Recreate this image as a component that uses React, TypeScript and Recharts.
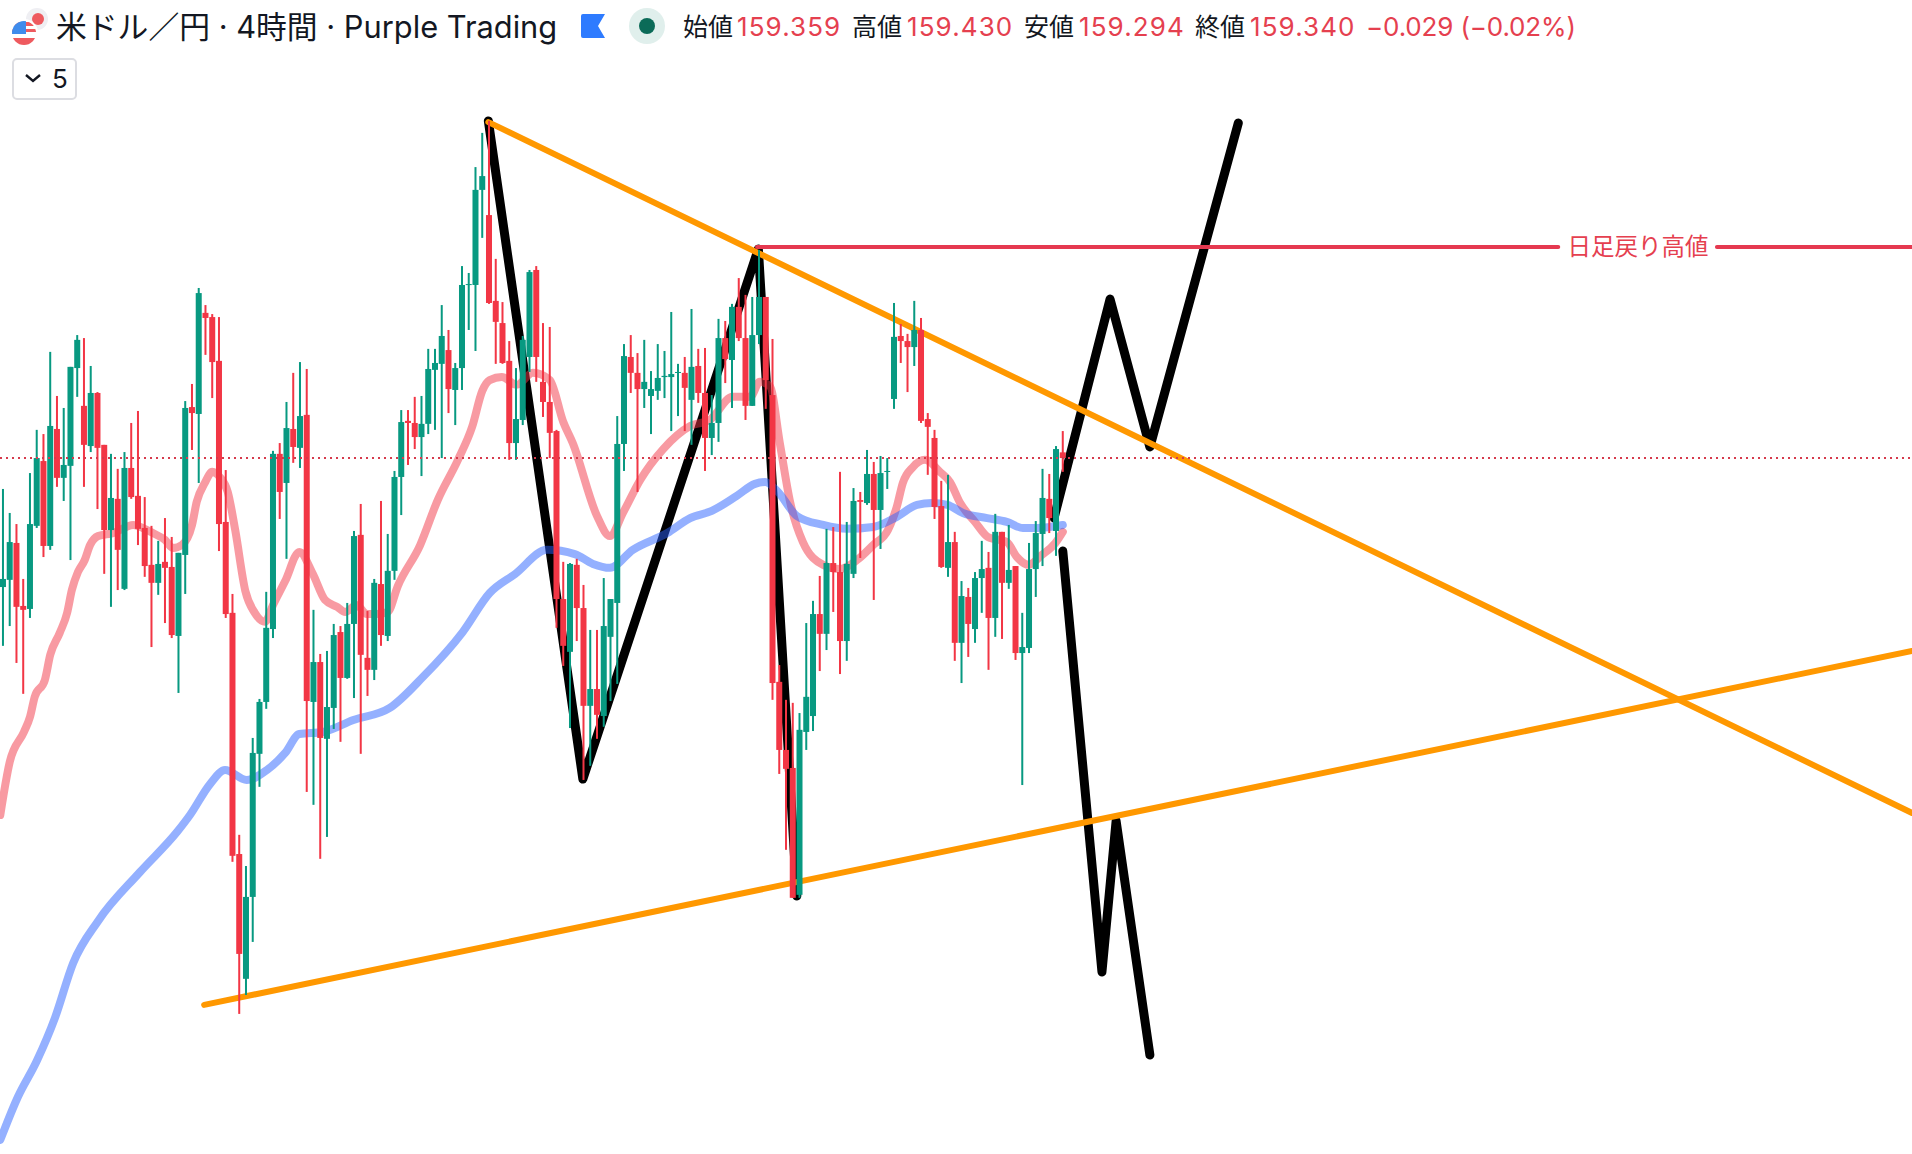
import React from "react";
import {
  Bar,
  ComposedChart,
  Line,
  ReferenceDot,
  ReferenceLine,
  XAxis,
  YAxis,
} from "recharts";

const opens = [
  158.910, 158.934, 159.057, 158.847, 158.837, 159.114, 159.330, 159.047, 159.437, 159.274,
  159.314, 159.640, 159.514, 159.380, 159.557, 159.384, 159.100, 159.204, 158.904, 159.307,
  159.214, 159.107, 158.984, 158.924, 158.994, 158.977, 158.747, 159.017, 159.510, 159.487,
  159.824, 159.810, 159.664, 159.127, 158.824, 158.020, 157.604, 157.877, 158.354, 158.527,
  158.770, 159.354, 159.257, 159.437, 159.374, 159.484, 158.527, 158.660, 158.404, 158.507,
  158.760, 158.607, 158.787, 159.084, 158.674, 158.634, 158.920, 158.747, 158.964, 159.277,
  159.464, 159.457, 159.410, 159.454, 159.634, 159.654, 159.700, 159.567, 159.640, 159.917,
  159.917, 160.234, 160.150, 159.864, 159.790, 159.664, 159.390, 159.467, 159.677, 159.967,
  159.594, 159.527, 159.430, 158.870, 158.694, 158.984, 158.840, 158.514, 158.570, 158.480,
  158.744, 158.857, 159.387, 159.677, 159.624, 159.570, 159.547, 159.564, 159.610, 159.610,
  159.624, 159.624, 159.534, 159.647, 159.557, 159.407, 159.457, 159.740, 159.667, 159.844,
  159.740, 159.514, 159.750, 159.877, 159.550, 158.594, 158.367, 158.307, 157.884, 158.427,
  158.480, 158.820, 158.754, 158.990, 158.960, 158.730, 158.954, 159.200, 159.190, 159.287,
  159.167, 159.294, 159.537, 159.747, 159.730, 159.710, 159.767, 159.470, 159.407, 159.180,
  158.974, 159.060, 158.724, 158.877, 158.770, 158.940, 158.974, 158.807, 159.094, 158.924,
  158.980, 158.690, 158.707, 158.970, 159.087, 159.204, 159.097, 159.359,
];
const highs = [
  159.237, 159.157, 159.120, 158.937, 159.290, 159.434, 159.420, 159.694, 159.547, 159.507,
  159.644, 159.750, 159.740, 159.647, 159.560, 159.384, 159.354, 159.304, 159.360, 159.457,
  159.497, 159.210, 159.114, 159.064, 159.140, 159.077, 159.024, 159.530, 159.587, 159.907,
  159.850, 159.820, 159.810, 159.300, 158.887, 158.084, 157.980, 158.407, 158.537, 158.894,
  159.364, 159.390, 159.527, 159.624, 159.660, 159.637, 158.834, 158.687, 158.697, 158.787,
  158.780, 158.857, 159.097, 159.187, 158.830, 158.937, 159.197, 159.087, 159.297, 159.500,
  159.500, 159.544, 159.547, 159.704, 159.704, 159.850, 159.767, 159.657, 159.980, 159.957,
  160.310, 160.424, 160.464, 160.004, 159.860, 159.730, 159.640, 159.747, 159.967, 159.980,
  159.790, 159.777, 159.434, 158.994, 158.990, 159.004, 158.917, 158.767, 158.767, 158.940,
  158.870, 159.480, 159.720, 159.750, 159.690, 159.734, 159.630, 159.720, 159.697, 159.827,
  159.654, 159.677, 159.837, 159.704, 159.707, 159.550, 159.804, 159.797, 159.854, 159.940,
  159.884, 159.877, 160.034, 159.877, 159.737, 158.650, 158.534, 158.524, 158.490, 158.790,
  158.864, 158.947, 159.104, 159.110, 159.294, 159.127, 159.240, 159.227, 159.367, 159.327,
  159.347, 159.340, 159.857, 159.787, 159.754, 159.864, 159.807, 159.490, 159.434, 159.264,
  159.284, 159.094, 158.930, 158.907, 158.960, 159.064, 159.027, 159.154, 159.094, 159.117,
  158.980, 158.824, 159.057, 159.130, 159.304, 159.287, 159.380, 159.430,
];
const lows = [
  158.714, 158.780, 158.657, 158.554, 158.807, 159.107, 159.010, 159.034, 159.244, 159.197,
  159.000, 159.544, 159.244, 159.360, 159.170, 158.954, 158.844, 158.900, 158.900, 159.204,
  159.050, 158.944, 158.710, 158.884, 158.790, 158.740, 158.557, 158.887, 159.367, 159.257,
  159.684, 159.540, 159.030, 158.807, 157.994, 157.487, 157.550, 157.727, 158.244, 158.504,
  158.740, 159.137, 159.004, 159.324, 159.307, 158.227, 158.184, 158.004, 158.077, 158.437,
  158.394, 158.604, 158.540, 158.354, 158.547, 158.600, 158.714, 158.730, 158.934, 159.150,
  159.317, 159.370, 159.280, 159.420, 159.434, 159.340, 159.490, 159.450, 159.567, 159.767,
  159.697, 160.074, 159.854, 159.654, 159.654, 159.334, 159.334, 159.450, 159.627, 159.594,
  159.477, 159.340, 158.774, 158.647, 158.440, 158.730, 158.267, 158.314, 158.404, 158.444,
  158.530, 158.587, 159.297, 159.557, 159.227, 159.507, 159.420, 159.534, 159.540, 159.430,
  159.480, 159.430, 159.384, 159.524, 159.297, 159.350, 159.394, 159.590, 159.507, 159.730,
  159.467, 159.514, 159.720, 159.504, 158.534, 158.287, 158.034, 157.874, 157.874, 158.367,
  158.430, 158.630, 158.700, 158.827, 158.620, 158.664, 158.940, 159.007, 159.184, 158.867,
  159.037, 159.237, 159.504, 159.657, 159.560, 159.647, 159.457, 159.284, 159.137, 158.974,
  158.944, 158.664, 158.590, 158.677, 158.724, 158.824, 158.634, 158.744, 158.737, 158.904,
  158.667, 158.250, 158.690, 158.877, 158.980, 159.090, 159.014, 159.294,
];
const closes = [
  158.937, 159.060, 158.844, 158.834, 159.120, 159.340, 159.047, 159.447, 159.274, 159.317,
  159.644, 159.734, 159.384, 159.557, 159.374, 159.100, 159.207, 159.034, 159.307, 159.210,
  159.104, 158.980, 158.924, 158.987, 158.974, 158.750, 159.024, 159.507, 159.490, 159.890,
  159.807, 159.660, 159.120, 158.820, 158.014, 157.687, 157.877, 158.357, 158.527, 158.774,
  159.354, 159.227, 159.440, 159.377, 159.480, 158.530, 158.660, 158.407, 158.510, 158.750,
  158.607, 158.787, 159.080, 158.684, 158.634, 158.924, 158.750, 158.964, 159.277, 159.460,
  159.457, 159.410, 159.454, 159.637, 159.657, 159.747, 159.570, 159.640, 159.917, 159.920,
  160.234, 160.280, 159.857, 159.794, 159.657, 159.390, 159.470, 159.734, 159.960, 159.677,
  159.527, 159.424, 158.870, 158.714, 158.987, 158.840, 158.514, 158.570, 158.484, 158.780,
  158.870, 159.387, 159.680, 159.624, 159.570, 159.594, 159.570, 159.607, 159.614, 159.620,
  159.627, 159.574, 159.644, 159.557, 159.407, 159.457, 159.740, 159.670, 159.844, 159.740,
  159.514, 159.750, 159.877, 159.600, 158.590, 158.367, 158.304, 157.874, 158.434, 158.544,
  158.820, 158.754, 158.990, 158.960, 158.730, 158.987, 159.197, 159.194, 159.287, 159.167,
  159.290, 159.297, 159.744, 159.730, 159.710, 159.767, 159.464, 159.444, 159.177, 158.977,
  159.060, 158.724, 158.880, 158.787, 158.940, 158.970, 158.807, 159.094, 158.924, 158.967,
  158.690, 158.710, 158.970, 159.090, 159.207, 159.140, 159.370, 159.340,
];

const pinkAt = [
  -0.4, 1.0, 3.1, 4.0, 4.7, 6.2, 7.0, 8.4, 9.5, 10.2, 11.1, 12.1, 12.9, 14.1, 16.3, 19.3, 20.7, 22.2, 24.0, 25.2,
  26.5, 28.0, 28.7, 29.9, 31.0, 32.1, 33.3, 34.4, 35.9, 37.3, 38.8, 40.0, 41.8, 43.9, 45.9, 47.7, 49.5, 50.7, 52.4, 53.9,
  55.4, 57.0, 58.5, 61.8, 64.4, 67.4, 69.5, 71.0, 72.1, 73.9, 76.1, 78.5, 81.0, 83.0, 84.4, 88.0, 89.9, 91.9, 94.4, 97.8,
  101.8, 104.7, 108.1, 110.7, 112.1, 113.6, 115.1, 116.6, 118.5, 121.5, 124.0, 126.5, 128.9, 131.1, 132.4, 133.3, 134.8, 136.6, 138.8, 140.3,
  141.8, 144.0, 145.9, 148.7, 150.2, 151.9, 153.9, 155.9, 157.0,
];
const pinkVals = [
  158.150, 158.327, 158.427, 158.477, 158.544, 158.600, 158.684, 158.757, 158.824, 158.900, 158.960, 159.000, 159.050, 159.080, 159.090, 159.117, 159.107, 159.090, 159.067, 159.040,
  159.050, 159.117, 159.194, 159.257, 159.294, 159.277, 159.227, 159.100, 158.897, 158.824, 158.794, 158.850, 158.930, 159.027, 158.954, 158.867, 158.844, 158.827, 158.850, 158.820,
  158.820, 158.827, 158.914, 159.050, 159.200, 159.334, 159.444, 159.564, 159.600, 159.610, 159.584, 159.624, 159.600, 159.460, 159.390, 159.147, 159.080, 159.160, 159.267, 159.370,
  159.447, 159.467, 159.544, 159.544, 159.594, 159.580, 159.387, 159.194, 159.060, 158.984, 158.970, 159.000, 159.050, 159.100, 159.177, 159.257, 159.310, 159.334, 159.294, 159.260,
  159.190, 159.127, 159.077, 159.060, 159.010, 158.984, 159.017, 159.057, 159.094,
];
const blueAt = [
  -0.4, 2.2, 5.0, 7.7, 10.4, 14.1, 20.3, 25.8, 27.7, 30.7, 32.9, 36.1, 39.1, 41.8, 43.9, 47.4, 51.9, 57.3, 62.2, 68.1,
  72.1, 75.9, 80.6, 84.7, 87.4, 89.9, 93.3, 98.4, 101.8, 105.0, 108.7, 111.4, 112.9, 114.7, 117.6, 121.5, 125.0, 128.9, 132.4, 135.4,
  137.6, 139.9, 142.2, 145.8, 148.7, 151.1, 153.2, 157.0,
];
const blueVals = [
  157.067, 157.210, 157.330, 157.474, 157.657, 157.797, 157.960, 158.094, 158.150, 158.254, 158.300, 158.267, 158.300, 158.357, 158.420, 158.427, 158.467, 158.507, 158.610, 158.760,
  158.890, 158.954, 159.034, 159.020, 158.987, 158.974, 159.034, 159.090, 159.140, 159.164, 159.214, 159.254, 159.260, 159.230, 159.147, 159.117, 159.104, 159.110, 159.144, 159.184,
  159.190, 159.184, 159.157, 159.140, 159.127, 159.107, 159.107, 159.117,
];

// hand drawn lines, [candle index, price]
const orangeDown = [[71.9, 160.46], [282.8, 158.157]];
const orangeUp = [[29.8, 157.517], [282.8, 158.697]];
const blackPast = [[71.9, 160.464], [85.9, 158.27], [111.9, 160.037], [117.6, 157.88]];
const blackUp = [[155.7, 159.14], [164.0, 159.87], [169.9, 159.377], [183.0, 160.457]];
const blackDown = [[157.0, 159.03], [162.8, 157.627], [164.9, 158.13], [169.9, 157.35]];
const redLeft = [[111.7, 160.044], [230.4, 160.044]];
const redRight = [[253.9, 160.044], [282.8, 160.044]];

const lastPrice = 159.34;
const redLabel = "日足戻り高値";
const titleText = "米ドル／円 · 4時間 · Purple Trading";
const ohlcLabels = ["始値", "高値", "安値", "終値"];
const ohlcValues = ["159.359", "159.430", "159.294", "159.340"];
const changeText = "−0.029 (−0.02%)";

const UP = "#089981";
const DOWN = "#f23645";
const TEXT_RED = "#e5404f";
const FONT = 'Inter, "Noto Sans CJK JP", sans-serif';

const candles = opens.map((o, i) => ({
  i,
  open: o,
  high: highs[i],
  low: lows[i],
  close: closes[i],
  range: [lows[i], highs[i]],
}));

const toPoints = (pairs: number[][]) => pairs.map(([i, p]) => ({ i, p }));
const pinkLine = pinkAt.map((i, n) => ({ i, p: pinkVals[n] }));
const blueLine = blueAt.map((i, n) => ({ i, p: blueVals[n] }));

const Candle = (props: any) => {
  const { x, y, width, height, payload } = props;
  const mid = x + width / 2;
  const perPrice = height / (payload.high - payload.low);
  const top = y + (payload.high - Math.max(payload.open, payload.close)) * perPrice;
  const bottom = y + (payload.high - Math.min(payload.open, payload.close)) * perPrice;
  const color = payload.close >= payload.open ? UP : DOWN;
  return (
    <g>
      <rect x={mid - 1} y={y} width={2} height={height} fill={color} />
      <rect x={mid - 3} y={top} width={6} height={Math.max(bottom - top, 1)} fill={color} />
    </g>
  );
};

const Header = () => {
  const labelLeft = [683, 852, 1024, 1195];
  const valueLeft = [737, 907, 1079, 1250];
  const common: React.CSSProperties = { position: "absolute", top: 11, fontSize: 25, lineHeight: "32px", whiteSpace: "nowrap" };
  return (
    <div style={{ position: "absolute", left: 0, top: 0, width: 1912, height: 110, fontFamily: FONT, zIndex: 5 }}>
      <svg width={50} height={50} style={{ position: "absolute", left: 0, top: 0 }}>
        <defs>
          <clipPath id="usFlag">
            <circle cx={24} cy={33} r={12} />
          </clipPath>
        </defs>
        <circle cx={37} cy={19} r={11} fill="#efeff3" />
        <circle cx={38} cy={19} r={6} fill="#ee5a5f" />
        <circle cx={24} cy={33} r={14} fill="#fff" />
        <g clipPath="url(#usFlag)">
          <rect x={10} y={20} width={28} height={26} fill="#fff" />
          <rect x={10} y={22} width={28} height={4} fill="#ee5a5f" />
          <rect x={10} y={29} width={28} height={3} fill="#ee5a5f" />
          <rect x={10} y={38} width={28} height={8} fill="#ee5a5f" />
          <rect x={10} y={20} width={16} height={14} fill="#3f8cec" />
        </g>
      </svg>
      <div style={{ ...common, left: 56, top: 8, fontSize: 30.8, lineHeight: "38px", color: "#131722" }}>{titleText}</div>
      <svg width={24} height={24} style={{ position: "absolute", left: 581, top: 14 }}>
        <path d="M2 0 H24 L17 12 L24 24 H2 Q0 24 0 22 V2 Q0 0 2 0 Z" fill="#2e7bff" />
      </svg>
      <svg width={38} height={38} style={{ position: "absolute", left: 628, top: 7 }}>
        <circle cx={19} cy={19} r={18} fill="#e0efec" />
        <circle cx={19} cy={19} r={8} fill="#0b6b58" />
      </svg>
      {ohlcLabels.map((t, n) => (
        <React.Fragment key={t}>
          <div style={{ ...common, left: labelLeft[n], color: "#131722" }}>{t}</div>
          <div style={{ ...common, left: valueLeft[n], fontSize: 26, letterSpacing: 1.1, color: TEXT_RED }}>{ohlcValues[n]}</div>
        </React.Fragment>
      ))}
      <div style={{ ...common, left: 1366, fontSize: 26, letterSpacing: -0.15, color: TEXT_RED }}>{changeText}</div>
      <div
        style={{
          position: "absolute",
          left: 12,
          top: 58,
          width: 61,
          height: 38,
          border: "2px solid #dcdde2",
          borderRadius: 5,
          fontSize: 26,
          lineHeight: "38px",
          color: "#131722",
        }}
      >
        <svg width={18} height={12} style={{ position: "absolute", left: 10, top: 13 }}>
          <path d="M2 2 L9 8 L16 2" fill="none" stroke="#131722" strokeWidth={2.4} />
        </svg>
        <span style={{ position: "absolute", left: 38 }}>5</span>
      </div>
    </div>
  );
};

const sketchLine = (key: string, points: { i: number; p: number }[], color: string, width: number, z: number) => (
  <Line
    key={key}
    data={points}
    dataKey="p"
    type="linear"
    stroke={color}
    strokeWidth={width}
    strokeLinecap="round"
    strokeLinejoin="round"
    dot={false}
    activeDot={false}
    legendType="none"
    isAnimationActive={false}
    zIndex={z}
  />
);

export default function App() {
  return (
    <div style={{ position: "absolute", left: 0, top: 0, width: 1912, height: 1154, background: "#fff", overflow: "hidden" }}>
      <Header />
      <ComposedChart width={1912} height={1154} data={candles} margin={{ top: 0, right: 0, bottom: 0, left: 0 }}>
        <XAxis dataKey="i" type="number" domain={[-0.444, 282.8]} allowDataOverflow hide />
        <YAxis type="number" domain={[157.02, 160.867]} allowDataOverflow hide />
        {sketchLine("blackPast", toPoints(blackPast), "#000000", 9, 410)}
        {sketchLine("blackUp", toPoints(blackUp), "#000000", 9, 410)}
        {sketchLine("blackDown", toPoints(blackDown), "#000000", 9, 410)}
        {sketchLine("orangeDown", toPoints(orangeDown), "#ff9800", 6, 420)}
        {sketchLine("orangeUp", toPoints(orangeUp), "#ff9800", 6, 420)}
        {sketchLine("redLeft", toPoints(redLeft), "#e53950", 4, 425)}
        {sketchLine("redRight", toPoints(redRight), "#e53950", 4, 425)}
        <Line
          data={pinkLine}
          dataKey="p"
          type="monotone"
          stroke="#f23645"
          strokeOpacity={0.5}
          strokeWidth={8}
          strokeLinecap="round"
          dot={false}
          activeDot={false}
          isAnimationActive={false}
          zIndex={430}
        />
        <Line
          data={blueLine}
          dataKey="p"
          type="monotone"
          stroke="#2962ff"
          strokeOpacity={0.5}
          strokeWidth={8}
          strokeLinecap="round"
          dot={false}
          activeDot={false}
          isAnimationActive={false}
          zIndex={431}
        />
        <Bar dataKey="range" barSize={6} shape={Candle} isAnimationActive={false} zIndex={500} />
        <ReferenceLine y={lastPrice} stroke="#d63a4c" strokeWidth={2} strokeDasharray="2 4" zIndex={510} />
        <ReferenceDot
          x={242.2}
          y={160.044}
          r={0}
          fill="none"
          stroke="none"
          label={{ value: redLabel, fill: TEXT_RED, fontSize: 23.5, fontFamily: FONT, position: "center" }}
        />
      </ComposedChart>
    </div>
  );
}
